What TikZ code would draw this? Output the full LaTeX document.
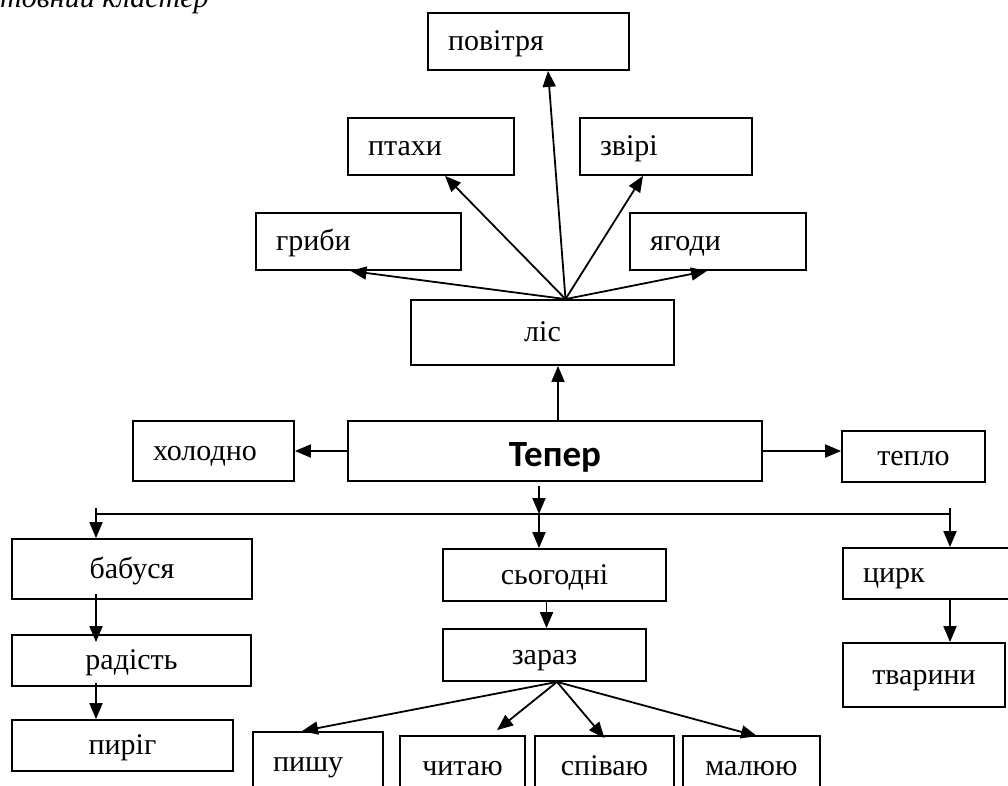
\documentclass[tikz,border=0pt]{standalone}
\usepackage{fontspec}
\setmainfont{Liberation Serif}
\newfontfamily\headfont{Carlito}
\usetikzlibrary{arrows.meta}

\begin{document}
\begin{tikzpicture}[x=1pt, y=-1pt,
  box/.style={draw, line width=1.8pt, inner sep=0pt, text height=18pt, text depth=0pt, font=\fontsize{30}{34}\selectfont},
  lbox/.style={box, inner xsep=20pt, align=left},
  arr/.style={-{Triangle[length=16pt,width=13pt]}, line width=1.8pt}]
\useasboundingbox (0,0) rectangle (1008,785);
% caption, cut by the top edge
\node[anchor=base west, inner sep=0pt, font=\fontsize{30}{34}\selectfont\itshape] (caption) at (0,7) {товний кластер};
% upper part
\node[lbox, text width=161pt, minimum height=57pt] (povitria) at (528.5,41.5) {повітря};
\node[lbox, text width=126pt, minimum height=57pt] (ptakhy) at (431,146.5) {птахи};
\node[lbox, text width=132pt, minimum height=57pt] (zviri) at (666,146.5) {звірі};
\node[lbox, text width=165pt, minimum height=57pt] (hryby) at (358.5,241.5) {гриби};
\node[lbox, text width=136pt, minimum height=57pt] (yahody) at (718,241.5) {ягоди};
\node[box, minimum width=263pt, minimum height=65pt] (lis) at (542.5,332.5) {ліс};
% middle row
\node[box, minimum width=414pt, minimum height=60pt, text height=30pt, font=\fontsize{37}{40}\headfont\bfseries] (teper) at (555,451) {Тепер};
\node[lbox, text width=121pt, minimum height=60pt] (kholodno) at (213.5,451) {холодно};
\node[box, minimum width=143pt, minimum height=51pt] (teplo) at (913.5,456.5) {тепло};
% lower part
\node[box, minimum width=240pt, minimum height=60pt] (babusia) at (132,569) {бабуся};
\node[box, minimum width=239pt, minimum height=51pt] (radist) at (131.5,660.5) {радість};
\node[box, minimum width=221pt, minimum height=51pt] (pyrih) at (122.5,745.5) {пиріг};
\node[box, minimum width=223pt, minimum height=52pt] (sohodni) at (554.5,575) {сьогодні};
\node[box, minimum width=203pt, minimum height=52pt] (zaraz) at (544.5,655) {зараз};
\node[lbox, text width=130pt, minimum height=51pt] (tsyrk) at (928,573.5) {цирк};
\node[box, minimum width=162pt, minimum height=64pt] (tvaryny) at (924,675) {тварини};
\node[lbox, text width=90pt, minimum height=60pt] (pyshu) at (318,762) {пишу};
\node[box, minimum width=125pt, minimum height=60pt] (chytaiu) at (462.5,766) {читаю};
\node[box, minimum width=139pt, minimum height=60pt] (spivaiu) at (604.5,766) {співаю};
\node[box, minimum width=137pt, minimum height=60pt] (maliuiu) at (751.5,766) {малюю};
% fan out of ліс
\coordinate (lisfan) at ([xshift=23pt]lis.north);
\draw[arr] (lisfan) -- ([xshift=-8pt]hryby.south);
\draw[arr] (lisfan) -- ([xshift=14pt]ptakhy.south);
\draw[arr] (lisfan) -- ([xshift=19.5pt]povitria.south);
\draw[arr] (lisfan) -- ([xshift=-23pt]zviri.south);
\draw[arr] (lisfan) -- ([xshift=-11pt]yahody.south);
% from Тепер
\draw[arr] ([xshift=3pt]teper.north) -- ([xshift=3pt]teper.north |- lis.south);
\draw[arr] (teper.west) -- (kholodno.east);
\draw[arr] (teper.east) -- (teper.east -| teplo.west);
% bar under Тепер
\coordinate (barL) at (96,514);
\coordinate (barM) at (539,514);
\coordinate (barR) at (950,514);
\draw[line width=1.8pt] (barL) -- (barR);
\draw[arr] ([xshift=-16pt,yshift=-4pt]teper.south) -- (barM);
\draw[arr] ([yshift=6pt]barL) -- (barL |- babusia.north);
\draw[arr] (barM) -- (barM |- sohodni.north);
\draw[arr] ([yshift=6pt]barR) -- (barR |- tsyrk.north);
% columns
\draw[arr] ([yshift=6pt]barL |- babusia.south) -- ([yshift=-8pt]barL |- radist.north);
\draw[arr] ([yshift=4pt]barL |- radist.south) -- (barL |- pyrih.north);
\draw[arr] ([xshift=-8pt]sohodni.south) -- ([xshift=-8pt]sohodni.south |- zaraz.north);
\draw[arr] (barR |- tsyrk.south) -- (barR |- tvaryny.north);
% fan out of зараз
\coordinate (zarazfan) at ([xshift=12.5pt]zaraz.south);
\draw[arr] (zarazfan) -- ([xshift=-16pt]pyshu.north);
\draw[arr] (zarazfan) -- ([xshift=34.5pt,yshift=5pt]chytaiu.north);
\draw[arr] (zarazfan) -- ([yshift=-3pt]spivaiu.north);
\draw[arr] (zarazfan) -- ([xshift=5.5pt,yshift=-1pt]maliuiu.north);
\end{tikzpicture}
\end{document}
